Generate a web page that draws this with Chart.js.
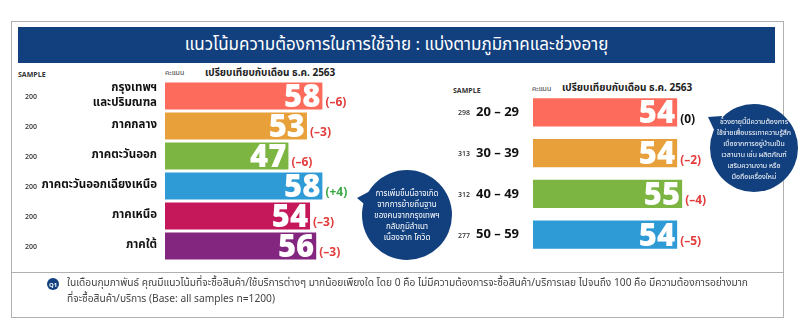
<!DOCTYPE html>
<html><head><meta charset="utf-8">
<script src="https://cdn.jsdelivr.net/npm/chart.js@4/dist/chart.umd.min.js"></script>
<style>
html,body{margin:0;padding:0;background:#fff;width:800px;height:332px;overflow:hidden;}
body{position:relative;font-family:"Noto Sans Thai","Noto Sans","Open Sans",sans-serif;}
.abs{position:absolute;white-space:nowrap;line-height:1;}
#frame{position:absolute;left:11px;top:21px;width:771px;height:295px;border:1px solid #b0b0b0;}
#titlebar{position:absolute;left:18px;top:27px;width:757px;height:36px;background:#12407f;color:#fff;font-size:17px;display:flex;align-items:center;justify-content:center;}
#sep{position:absolute;left:12px;top:272px;width:771px;height:1px;background:#b0b0b0;}
canvas{position:absolute;}
.hdr{font-size:7px;font-weight:700;color:#333;font-family:"Open Sans",sans-serif;}
.sc{font-size:7px;color:#333;}
.cmp{font-size:10px;font-weight:700;color:#222;}
.bubtxt{position:absolute;color:#fff;font-size:7px;text-align:center;line-height:11px;white-space:nowrap;}
.foot{font-size:11px;color:#444;transform-origin:0 0;}
</style></head>
<body>
<div id="frame"></div>
<div id="titlebar"><span id="title">แนวโน้มความต้องการในการใช้จ่าย : แบ่งตามภูมิภาคและช่วงอายุ</span></div>

<div class="abs hdr" style="left:18px;top:71px;">SAMPLE</div>
<div class="abs sc" style="left:165px;top:70px;">คะแนน</div>
<div class="abs cmp" style="left:205px;top:68px;">เปรียบเทียบกับเดือน ธ.ค. 2563</div>

<div class="abs hdr" style="left:453px;top:87px;">SAMPLE</div>
<div class="abs sc" style="left:532px;top:86px;">คะแนน</div>
<div class="abs cmp" style="left:562px;top:83px;">เปรียบเทียบกับเดือน ธ.ค. 2563</div>

<canvas id="c1" width="460" height="332" style="left:0;top:0;"></canvas>
<canvas id="c2" width="400" height="332" style="left:400px;top:0;"></canvas>

<svg width="800" height="332" style="position:absolute;left:0;top:0;pointer-events:none;">
  <g fill="#12407f">
    <circle cx="407" cy="215" r="45"/>
    <polygon points="357,198 372,190 376,214"/>
    <circle cx="754" cy="148" r="44"/>
    <polygon points="708,117 722,116 716,134"/>
    <circle cx="53" cy="284" r="6"/>
  </g>
  <text x="53" y="286.5" fill="#fff" font-size="6" font-weight="700" text-anchor="middle" font-family="Open Sans">Q1</text>
</svg>

<div class="bubtxt" style="left:357px;top:189px;width:100px;font-size:8px;">การเพิ่มขึ้นนี้อาจเกิด<br>จากการย้ายถิ่นฐาน<br>ของคนจากกรุงเทพฯ<br>กลับภูมิลำเนา<br>เนื่องจาก โควิด</div>
<div class="bubtxt" style="left:704px;top:117px;width:100px;">ช่วงอายุนี้มีความต้องการ<br>ใช้จ่ายเพื่อบรรเทาความรู้สึก<br>เบื่อจากการอยู่บ้านเป็น<br>เวลานาน เช่น ผลิตภัณฑ์<br>เสริมความงาม หรือ<br>มือถือเครื่องใหม่</div>

<div id="sep"></div>
<div id="f1" class="abs foot" style="left:67px;top:277px;">ในเดือนกุมภาพันธ์ คุณมีแนวโน้มที่จะซื้อสินค้า/ใช้บริการต่างๆ มากน้อยเพียงใด โดย 0 คือ ไม่มีความต้องการจะซื้อสินค้า/บริการเลย ไปจนถึง 100 คือ มีความต้องการอย่างมาก</div>
<div id="f2" class="abs foot" style="left:67px;top:293px;">ที่จะซื้อสินค้า/บริการ (Base: all samples n=1200)</div>

<script>
// ---- data ----
const regions = [['กรุงเทพฯ','และปริมณฑล'],'ภาคกลาง','ภาคตะวันออก','ภาคตะวันออกเฉียงเหนือ','ภาคเหนือ','ภาคใต้'];
const regionScores = [58,53,47,58,54,56];
const regionChanges = [-6,-3,-6,4,-3,-3];
const regionSamples = [200,200,200,200,200,200];
const regionColors = ['#fc6b5b','#e8a13a','#7db543','#2e9bd6','#c5185a','#83267f'];

const ageGroups = ['20 – 29','30 – 39','40 – 49','50 – 59'];
const ageScores = [54,54,55,54];
const ageChanges = [0,-2,-4,-5];
const ageSamples = [298,313,312,277];
const ageColors = ['#fc6b5b','#e8a13a','#7db543','#2e9bd6'];

const THAI = '"Noto Sans Thai","Noto Sans","Open Sans",sans-serif';

// fit footer line to the measured width of the reference
(function(){
  const f1=document.getElementById('f1'), f2=document.getElementById('f2');
  const k = 681 / f1.getBoundingClientRect().width;
  f1.style.transform='scaleX('+k+')'; f2.style.transform='scaleX('+k+')';
})();

function fmtChange(v){ return v>0 ? '(+'+v+')' : v<0 ? '(–'+Math.abs(v)+')' : '(0)'; }
function changeColor(v){ return v>0 ? '#3aa845' : v<0 ? '#e23c3c' : '#111'; }

function labelPlugin(changes, samples, sampleX){
  return {
    id:'labels',
    afterDatasetsDraw(chart){
      const ctx = chart.ctx;
      const meta = chart.getDatasetMeta(0);
      const ds = chart.data.datasets[0].data;
      meta.data.forEach((bar,i)=>{
        ctx.save();
        ctx.fillStyle='#fff';
        ctx.font='800 31px "Open Sans", sans-serif';
        ctx.textAlign='right'; ctx.textBaseline='alphabetic';
        ctx.fillText(String(ds[i]), bar.x-2, bar.y+11);
        ctx.fillStyle=changeColor(changes[i]);
        ctx.font='700 12px "Open Sans", sans-serif';
        ctx.textAlign='left'; ctx.textBaseline='middle';
        ctx.fillText(fmtChange(changes[i]), bar.x+3, bar.y+7);
        ctx.fillStyle='#333';
        ctx.font='600 7px "Open Sans", sans-serif';
        ctx.textAlign='center';
        ctx.fillText(String(samples[i]), sampleX, bar.y+1);
        ctx.restore();
      });
    }
  };
}

function makeChart(id, labels, values, colors, changes, samples, opts){
  return new Chart(document.getElementById(id), {
    type:'bar',
    data:{labels:labels, datasets:[{data:values, backgroundColor:colors, borderWidth:0,
      barPercentage:opts.barPct, categoryPercentage:1}]},
    options:{
      indexAxis:'y', responsive:false, animation:false, devicePixelRatio:1,
      layout:{padding:opts.padding},
      plugins:{legend:{display:false}, tooltip:{enabled:false}},
      scales:{
        x:{display:false, min:opts.min, max:opts.max},
        y:{grid:{display:false, drawTicks:false}, border:{display:false},
           afterFit(s){ s.width = opts.axisW; },
           ticks:{color:'#111', padding:opts.tickPad, font:opts.tickFont, autoSkip:false}}
      }
    },
    plugins:[labelPlugin(changes, samples, opts.sampleX)]
  });
}

makeChart('c1', regions, regionScores, regionColors, regionChanges, regionSamples, {
  barPct:0.9, padding:{top:81,bottom:71,left:0,right:8}, min:7, max:100, axisW:165, tickPad:8,
  tickFont:{family:THAI, size:11.5, weight:'700', lineHeight:1.25}, sampleX:31
});
makeChart('c2', ageGroups, ageScores, ageColors, ageChanges, ageSamples, {
  barPct:0.69, padding:{top:92,bottom:77,left:0,right:93}, min:25, max:60, axisW:133, tickPad:14,
  tickFont:{family:'"Open Sans", sans-serif', size:13, weight:'700'}, sampleX:64
});
</script>
</body></html>
